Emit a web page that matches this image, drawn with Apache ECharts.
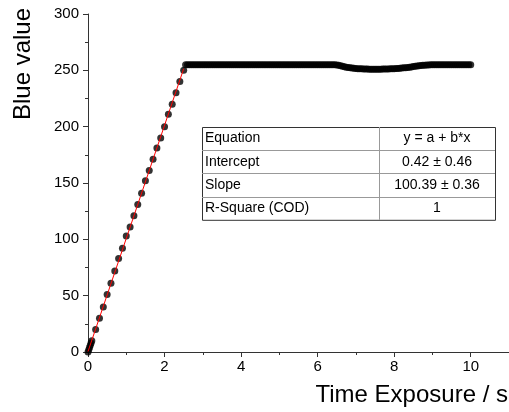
<!DOCTYPE html>
<html>
<head>
<meta charset="utf-8">
<script src="https://cdn.jsdelivr.net/npm/echarts@6/dist/echarts.min.js"></script>
<style>
  html, body { margin: 0; padding: 0; background: #fff; }
  #chart { width: 509px; height: 412px; }
</style>
</head>
<body>
<div id="chart"></div>
<script>
// rising part (s, blue value)
const riseTime = [0, 0.02, 0.04, 0.06, 0.08, 0.1, 0.2, 0.3, 0.4, 0.5, 0.6, 0.7, 0.8, 0.9, 1.0,
  1.1, 1.2, 1.3, 1.4, 1.5, 1.6, 1.7, 1.8, 1.9, 2.0, 2.1, 2.2, 2.3, 2.4, 2.5];
const riseBlue = [0, 2, 4, 6, 8, 10, 20, 30, 40, 51, 61, 72, 83, 92, 103,
  111, 121, 131, 141, 152, 161, 171, 181, 190, 200, 211, 220, 230, 240, 250];

// saturated part, sampled every 0.05 s from 2.55 s to 10 s
const plateauStart = 2.55;
const plateauStep = 0.05;
const plateauBlue = [
  255, 255, 255, 255, 255, 255, 255, 255, 255, 255, 255, 255, 255, 255, 255, 255, 255, 255, 255, 255,
  255, 255, 255, 255, 255, 255, 255, 255, 255, 255, 255, 255, 255, 255, 255, 255, 255, 255, 255, 255,
  255, 255, 255, 255, 255, 255, 255, 255, 255, 255, 255, 255, 255, 255, 255, 255, 255, 255, 255, 255,
  255, 255, 255, 255, 255, 255, 255, 255, 255, 255, 255, 255, 255, 255, 255, 255, 255, 255, 255,
  254.8, 254.5, 254, 253.6, 253.2, 252.8, 252.5, 252.2, 252, 251.8,
  251.6, 251.5, 251.4, 251.3, 251.2, 251.1, 251.1, 251, 251, 251,
  251, 251, 251, 251, 251.1, 251.1, 251.2, 251.2, 251.3, 251.4,
  251.5, 251.6, 251.7, 251.8, 252, 252.2, 252.4, 252.6, 252.8, 253,
  253.3, 253.6, 253.9, 254.1, 254.3, 254.5, 254.6, 254.7, 254.8, 254.9, 255,
  255, 255, 255, 255, 255, 255, 255, 255, 255, 255, 255, 255, 255, 255, 255, 255, 255, 255, 255, 255
];

// linear fit endpoints
const fitLine = [[0, 0.42], [2.5, 251.4]];

// fit result table
const tableLabels = ['Equation', 'Intercept', 'Slope', 'R-Square (COD)'];
const tableValues = ['y = a + b*x', '0.42 \u00b1 0.46', '100.39 \u00b1 0.36', '1'];

const xTicks = { min: 0, max: 11, interval: 2 };
const yTicks = { min: 0, max: 300, interval: 50 };

const font = 'Arial, "Liberation Sans", sans-serif';
const axisColor = '#333';

const points = riseTime.map((t, i) => [t, riseBlue[i]])
  .concat(plateauBlue.map((v, i) => [+(plateauStart + i * plateauStep).toFixed(2), v]));

// table graphic
const tbl = { left: 202, top: 127, width: 293, rowH: 23.2, split: 379 };
const tableGraphic = [];
tableGraphic.push({
  type: 'rect', shape: { x: tbl.left + 0.5, y: tbl.top + 0.5, width: tbl.width, height: tbl.rowH * tableLabels.length },
  style: { fill: '#fff', stroke: '#333', lineWidth: 1 }, z: 10
});
for (let i = 1; i < tableLabels.length; i++) {
  const y = Math.round(tbl.top + i * tbl.rowH) + 0.5;
  tableGraphic.push({ type: 'line', shape: { x1: tbl.left, y1: y, x2: tbl.left + tbl.width, y2: y },
    style: { stroke: '#999', lineWidth: 1 }, z: 11 });
}
tableGraphic.push({ type: 'line',
  shape: { x1: tbl.split + 0.5, y1: tbl.top, x2: tbl.split + 0.5, y2: tbl.top + tbl.rowH * tableLabels.length },
  style: { stroke: '#999', lineWidth: 1 }, z: 11 });
tableLabels.forEach((lab, i) => {
  const cy = tbl.top + (i + 0.5) * tbl.rowH;
  tableGraphic.push({ type: 'text', x: tbl.left + 3, y: cy, z: 12,
    style: { text: lab, font: '14px ' + font, fill: '#000', align: 'left', verticalAlign: 'middle' } });
  tableGraphic.push({ type: 'text', x: (tbl.split + tbl.left + tbl.width) / 2, y: cy, z: 12,
    style: { text: tableValues[i], font: '14px ' + font, fill: '#000', align: 'center', verticalAlign: 'middle' } });
});

const chart = echarts.init(document.getElementById('chart'));
chart.setOption({
  animation: false,
  grid: { left: 88, right: 0, top: 14, bottom: 60, containLabel: false },
  xAxis: {
    type: 'value', min: xTicks.min, max: xTicks.max, interval: xTicks.interval,
    axisLine: { onZero: false, lineStyle: { color: axisColor, width: 1 } },
    axisTick: { show: true, inside: false, length: 5, lineStyle: { color: axisColor } },
    minorTick: { show: true, splitNumber: 2, length: 3, lineStyle: { color: axisColor } },
    axisLabel: { color: '#000', fontSize: 15, fontFamily: font, margin: 7, showMaxLabel: false },
    splitLine: { show: false }
  },
  yAxis: {
    type: 'value', min: yTicks.min, max: yTicks.max, interval: yTicks.interval,
    axisLine: { show: true, onZero: false, lineStyle: { color: axisColor, width: 1 } },
    axisTick: { show: true, inside: false, length: 5, lineStyle: { color: axisColor } },
    minorTick: { show: true, splitNumber: 2, length: 3, lineStyle: { color: axisColor } },
    axisLabel: { color: '#000', fontSize: 15, fontFamily: font, margin: 9 },
    splitLine: { show: false }
  },
  graphic: [
    { type: 'text', x: 23, y: 64, rotation: Math.PI / 2,
      style: { text: 'Blue value', font: '24px ' + font, fill: '#000', align: 'center', verticalAlign: 'middle' } },
    { type: 'text', x: 508, y: 395,
      style: { text: 'Time Exposure / s', font: '24px ' + font, fill: '#000', align: 'right', verticalAlign: 'middle' } }
  ].concat(tableGraphic),
  series: [
    {
      type: 'scatter', data: points, symbol: 'circle', symbolSize: 7,
      itemStyle: { color: '#000' }, z: 2
    },
    {
      type: 'line', data: fitLine, showSymbol: false, symbol: 'none',
      lineStyle: { color: '#f00', width: 1 }, z: 3
    }
  ]
});
</script>
</body>
</html>
